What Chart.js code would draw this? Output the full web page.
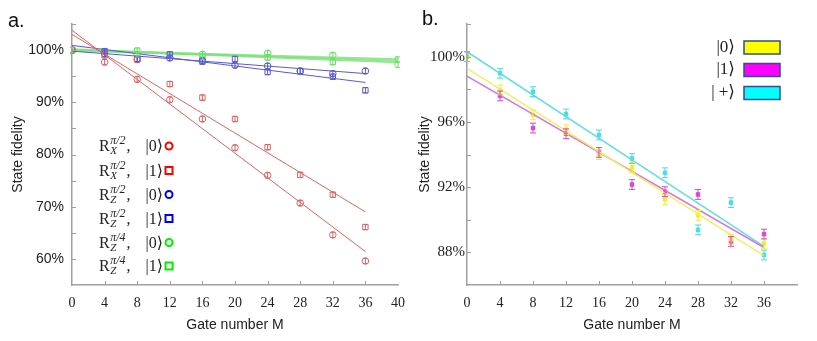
<!DOCTYPE html>
<html><head><meta charset="utf-8">
<script src="https://cdn.jsdelivr.net/npm/chart.js@4"></script>
<style>
html,body{margin:0;padding:0;background:#fff;width:817px;height:341px;overflow:hidden;position:relative}
#ca{position:absolute;left:0;top:0}
#cb{position:absolute;left:410px;top:0}
</style></head><body>
<canvas id="ca" width="415" height="341"></canvas>
<canvas id="cb" width="407" height="341"></canvas>
<script>
// ---------- Panel a data ----------
const gatesA = [0, 4, 8, 12, 16, 20, 24, 28, 32, 36];
const gatesGreen = [0, 8, 16, 24, 32, 40];
const rx0 = [100, 97.7, 94.4, 90.5, 86.8, 81.3, 76.0, 70.7, 64.6, 59.6];
const rx1 = [100, 99.0, 98.2, 93.5, 90.9, 86.8, 81.4, 76.1, 72.3, 66.1];
const rz0 = [100, 99.3, 98.2, 98.5, 98.0, 97.1, 96.95, 96.0, 95.5, 96.0];
const rz1 = [100, 99.8, 98.3, 99.2, 97.8, 98.3, 95.8, 96.0, 94.9, 92.3];
const rq0 = [100, 99.2, 99.2, 99.4, 99.0, 97.2];
const rq1 = [100, 99.9, 98.7, 98.6, 97.7, 98.2];
const fitXA = [0, 36];
const fitXGreen = [0, 40];
const fitRx0 = [103.8, 61.4];
const fitRx1 = [103.0, 69.0];
const fitRz0 = [99.8, 95.5];
const fitRz1 = [100.9, 93.8];
const fitRq0 = [99.9, 98.2];
const fitRq1 = [100.1, 97.7];
const errA = 0.5;
const yTickLabelsA = [60, 70, 80, 90, 100];
const xTickLabelsA = [0, 4, 8, 12, 16, 20, 24, 28, 32, 36, 40];
const legendOpsA = ['X', 'X', 'Z', 'Z', 'Z', 'Z'];
const legendAnglesA = ['π/2', 'π/2', 'π/2', 'π/2', 'π/4', 'π/4'];
const legendKetsA = ['|0⟩', '|1⟩', '|0⟩', '|1⟩', '|0⟩', '|1⟩'];

// ---------- Panel b data ----------
const gatesB = [0, 4, 8, 12, 16, 20, 24, 28, 32, 36];
const state0 = [100, 97.96, 96.43, 95.52, 93.99, 93.2, 91.25, 90.27, 88.8, 88.55];
const state1 = [100, 97.59, 95.62, 95.27, 94.13, 92.16, 91.72, 91.55, 88.67, 89.12];
const statePlus = [100.0, 98.98, 97.85, 96.48, 95.2, 93.75, 92.88, 89.38, 91.05, 87.84];
const fitXB = [0, 36];
const fitState0 = [99.28, 87.8];
const fitState1 = [98.8, 88.3];
const fitStatePlus = [100.3, 88.37];
const errB = 0.3;
const yTickLabelsB = [88, 92, 96, 100];
const xTickLabelsB = [0, 4, 8, 12, 16, 20, 24, 28, 32, 36];
const legendKetsB = ['|0⟩', '|1⟩', '| +⟩'];

const zip = (xs, ys) => xs.map((x, i) => ({x: x, y: ys[i]}));

const RED = 'rgb(222,100,100)', BLUE = 'rgb(90,90,205)', GREEN = 'rgb(105,222,105)';
const CYAN = 'rgb(70,222,222)', MAG = 'rgb(215,70,215)', YEL = 'rgb(238,238,50)';

const errorBars = {
  id: 'errorBars',
  afterDatasetsDraw(chart) {
    const ctx = chart.ctx, ys = chart.scales.y;
    chart.data.datasets.forEach((ds, i) => {
      if (!ds.err) return;
      const meta = chart.getDatasetMeta(i);
      ctx.save();
      ctx.strokeStyle = ds.borderColor;
      ctx.lineWidth = 1;
      meta.data.forEach((el, j) => {
        const v = ds.data[j].y;
        const t = ys.getPixelForValue(v + ds.err), b = ys.getPixelForValue(v - ds.err);
        const c = ds.cap;
        ctx.beginPath();
        ctx.moveTo(el.x, t); ctx.lineTo(el.x, b);
        ctx.moveTo(el.x - c, t); ctx.lineTo(el.x + c, t);
        ctx.moveTo(el.x - c, b); ctx.lineTo(el.x + c, b);
        ctx.stroke();
      });
      ctx.restore();
    });
  }
};

const innerTicks = {
  id: 'innerTicks',
  afterDraw(chart) {
    const ctx = chart.ctx, xs = chart.scales.x, ys = chart.scales.y, a = chart.chartArea;
    ctx.save();
    ctx.strokeStyle = '#a0a0a0';
    ctx.lineWidth = 1;
    ctx.beginPath();
    xs.ticks.forEach(t => {
      const p = Math.round(xs.getPixelForValue(t.value)) + 0.5;
      if (t.value === xs.min || t.value === xs.max) return;
      ctx.moveTo(p, a.bottom); ctx.lineTo(p, a.bottom - 4);
    });
    ys.ticks.forEach(t => {
      const p = Math.round(ys.getPixelForValue(t.value)) + 0.5;
      if (t.value === ys.min) return;
      ctx.moveTo(a.left, p); ctx.lineTo(a.left + 4, p);
    });
    ctx.stroke();
    ctx.restore();
  }
};

function panelLabel(text, x, y) {
  return {
    id: 'panelLabel',
    afterDraw(chart) {
      const ctx = chart.ctx;
      ctx.save();
      ctx.fillStyle = '#111';
      ctx.font = '20px "Liberation Sans", Arial, sans-serif';
      ctx.textBaseline = 'alphabetic';
      ctx.fillText(text, x, y);
      ctx.restore();
    }
  };
}

const legendA = {
  id: 'legendA',
  afterDraw(chart) {
    const ctx = chart.ctx;
    const colors = ['#ff0000', '#ff0000', '#0000ff', '#0000ff', '#00ee00', '#00ee00'];
    const shapes = ['circle', 'rect', 'circle', 'rect', 'circle', 'rect'];
    const centers = [146, 170.5, 194.5, 218.5, 242.5, 266];
    ctx.save();
    ctx.fillStyle = '#222';
    ctx.textBaseline = 'alphabetic';
    centers.forEach((cy, i) => {
      const yb = cy + 5;
      let x = 99;
      ctx.font = '16px "Liberation Serif", "DejaVu Serif", serif';
      ctx.fillText('R', x, yb);
      x += ctx.measureText('R').width + 0.5;
      ctx.font = 'italic 12px "Liberation Serif", "DejaVu Serif", serif';
      ctx.fillText(legendAnglesA[i], x, yb - 7);
      const w1 = ctx.measureText(legendAnglesA[i]).width;
      ctx.font = 'italic 11px "Liberation Serif", "DejaVu Serif", serif';
      ctx.fillText(legendOpsA[i], x, yb + 3);
      x += w1 + 1;
      ctx.font = '16px "Liberation Serif", "DejaVu Serif", serif';
      ctx.fillText(',', x, yb);
      ctx.textAlign = 'right';
      ctx.fillText(legendKetsA[i], 163, yb);
      ctx.textAlign = 'left';
      ctx.strokeStyle = colors[i];
      ctx.lineWidth = 2;
      ctx.beginPath();
      if (shapes[i] === 'circle') ctx.arc(169, cy, 3.5, 0, Math.PI * 2);
      else ctx.rect(165.5, cy - 3.5, 7, 7);
      ctx.stroke();
    });
    ctx.restore();
  }
};

const legendB = {
  id: 'legendB',
  afterDraw(chart) {
    const ctx = chart.ctx;
    const fills = ['#ffff00', '#ff00ff', '#00ffff'];
    const centers = [47.5, 70, 93];
    ctx.save();
    ctx.textBaseline = 'middle';
    ctx.textAlign = 'right';
    centers.forEach((cy, i) => {
      ctx.fillStyle = '#222';
      ctx.font = '17px "Liberation Serif", "DejaVu Serif", serif';
      ctx.fillText(legendKetsB[i], 325, cy);
      ctx.fillStyle = fills[i];
      ctx.fillRect(334, cy - 6.5, 36, 13);
      ctx.strokeStyle = '#2f4f8f';
      ctx.lineWidth = 1.5;
      ctx.strokeRect(334, cy - 6.5, 36, 13);
    });
    ctx.restore();
  }
};

function pts(label, xs, ys, color, style, radius, filled, err, cap) {
  return {
    label, data: zip(xs, ys), showLine: false,
    borderColor: color, backgroundColor: filled ? color : 'rgba(0,0,0,0)',
    pointStyle: style, pointRadius: radius, pointBorderWidth: 1, pointHoverRadius: radius,
    err, cap
  };
}
function fit(label, xs, ys, color, width) {
  return {
    label, data: zip(xs, ys), showLine: true, borderColor: color, borderWidth: width,
    pointRadius: 0, pointHoverRadius: 0, backgroundColor: color
  };
}

const sans = '"Liberation Sans", Arial, sans-serif';
const serif = '"Liberation Serif", "DejaVu Serif", serif';

new Chart(document.getElementById('ca'), {
  type: 'scatter',
  data: {
    datasets: [
      fit('fit Rx0', fitXA, fitRx0, RED, 1),
      fit('fit Rx1', fitXA, fitRx1, RED, 1),
      fit('fit Rz0', fitXA, fitRz0, BLUE, 1),
      fit('fit Rz1', fitXA, fitRz1, BLUE, 1),
      pts('Rx |0>', gatesA, rx0, RED, 'circle', 3.3, false, errA, 2),
      pts('Rx |1>', gatesA, rx1, RED, 'rect', 3.8, false, errA, 2),
      pts('Rz |0>', gatesA, rz0, BLUE, 'circle', 3.3, false, errA, 2),
      pts('Rz |1>', gatesA, rz1, BLUE, 'rect', 3.8, false, errA, 2),
      fit('fit Rq0', fitXGreen, fitRq0, 'rgba(120,225,120,0.8)', 2.5),
      fit('fit Rq1', fitXGreen, fitRq1, 'rgba(120,225,120,0.8)', 2.5),
      pts('Rz/4 |0>', gatesGreen, rq0, GREEN, 'circle', 3.3, false, errA, 2),
      pts('Rz/4 |1>', gatesGreen, rq1, GREEN, 'rect', 3.8, false, errA, 2)
    ]
  },
  options: {
    responsive: false, animation: false,
    layout: {padding: {left: 0, right: 12, top: 24, bottom: 0}},
    plugins: {legend: {display: false}, tooltip: {enabled: false}},
    scales: {
      x: {
        type: 'linear', min: 0, max: 40,
        grid: {display: false, drawTicks: false},
        border: {display: true, color: '#a0a0a0', width: 1.5},
        ticks: {stepSize: 4, padding: 10, color: '#222', font: {family: serif, size: 14},
          callback: v => xTickLabelsA.includes(v) ? String(v) : ''},
        title: {display: true, text: 'Gate number M', color: '#222', font: {family: sans, size: 14}, padding: {top: 0, bottom: 7}},
        afterFit(s) { s.height = 56; }
      },
      y: {
        type: 'linear', min: 55, max: 105,
        grid: {display: false, drawTicks: false},
        border: {display: true, color: '#a0a0a0', width: 1.5},
        ticks: {stepSize: 5, padding: 8, color: '#222', font: {family: sans, size: 14},
          callback: v => yTickLabelsA.includes(v) ? v + '%' : ''},
        title: {display: true, text: 'State fidelity', color: '#222', font: {family: sans, size: 14}, padding: {top: 10, bottom: 0}},
        afterFit(s) { s.width = 72; }
      }
    }
  },
  plugins: [errorBars, innerTicks, legendA, panelLabel('a.', 8, 27)]
});

new Chart(document.getElementById('cb'), {
  type: 'scatter',
  data: {
    datasets: [
      fit('fit |0>', fitXB, fitState0, 'rgb(240,240,100)', 1.5),
      fit('fit |1>', fitXB, fitState1, 'rgb(215,120,215)', 1.5),
      fit('fit |+>', fitXB, fitStatePlus, 'rgb(100,222,230)', 1.5),
      pts('|0>', gatesB, state0, YEL, 'rect', 2.5, true, errB, 3),
      pts('|1>', gatesB, state1, MAG, 'rect', 2.5, true, errB, 3),
      pts('|+>', gatesB, statePlus, CYAN, 'rect', 2.5, true, errB, 3)
    ]
  },
  options: {
    responsive: false, animation: false,
    layout: {padding: {left: 0, right: 20, top: 24, bottom: 0}},
    plugins: {legend: {display: false}, tooltip: {enabled: false}},
    scales: {
      x: {
        type: 'linear', min: 0, max: 40,
        grid: {display: false, drawTicks: false},
        border: {display: true, color: '#a0a0a0', width: 1.5},
        ticks: {stepSize: 4, padding: 10, color: '#222', font: {family: serif, size: 14},
          callback: v => xTickLabelsB.includes(v) ? String(v) : ''},
        title: {display: true, text: 'Gate number M', color: '#222', font: {family: sans, size: 14}, padding: {top: 0, bottom: 7}},
        afterFit(s) { s.height = 56; }
      },
      y: {
        type: 'linear', min: 86, max: 102,
        grid: {display: false, drawTicks: false},
        border: {display: true, color: '#a0a0a0', width: 1.5},
        ticks: {stepSize: 2, padding: 2, color: '#222', font: {family: serif, size: 15},
          callback: v => yTickLabelsB.includes(v) ? v + '%' : ''},
        title: {display: true, text: 'State fidelity', color: '#222', font: {family: sans, size: 14}, padding: {top: 7, bottom: 0}},
        afterFit(s) { s.width = 57; }
      }
    }
  },
  plugins: [errorBars, innerTicks, legendB, panelLabel('b.', 12, 25)]
});
</script>
</body></html>
